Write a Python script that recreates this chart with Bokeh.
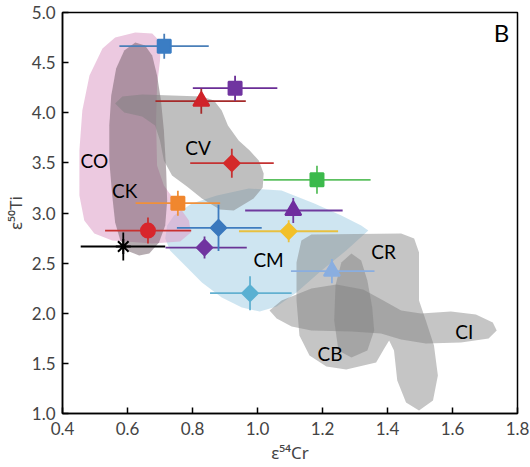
import math
from bokeh.plotting import figure
from bokeh.models import ColumnDataSource, FixedTicker, PrintfTickFormatter
from bokeh.core.properties import value
from bokeh.embed import file_html
from bokeh.resources import INLINE

# ---- measurements (eps54Cr, eps50Ti) with uncertainties ----
eps54Cr = [0.713, 0.931, 0.827, 0.921, 1.183, 0.755, 1.110, 0.880, 0.663, 1.096, 0.587, 0.837, 1.229, 0.977]
eps50Ti = [4.664, 4.245, 4.115, 3.497, 3.331, 3.098, 3.025, 2.852, 2.825, 2.818, 2.666, 2.655, 2.420, 2.200]
cr_lo   = [0.575, 0.801, 0.686, 0.793, 1.018, 0.625, 0.962, 0.752, 0.531, 0.943, 0.456, 0.717, 1.103, 0.854]
cr_hi   = [0.850, 1.061, 0.964, 1.050, 1.348, 0.885, 1.262, 1.013, 0.796, 1.248, 0.716, 0.967, 1.360, 1.105]
ti_err  = [0.125, 0.125, 0.125, 0.145, 0.140, 0.125, 0.125, 0.230, 0.130, 0.110, 0.140, 0.110, 0.120, 0.170]

# ---- group fields (outlines in eps54Cr / eps50Ti) ----
CO_x = [0.624, 0.676, 0.703, 0.700, 0.691, 0.688, 0.691, 0.712, 0.752, 0.789, 0.795, 0.762, 0.676, 0.553, 0.498, 0.467, 0.452, 0.452, 0.461, 0.483, 0.523, 0.562]
CO_y = [4.800, 4.791, 4.701, 4.521, 4.272, 3.923, 3.474, 3.274, 3.095, 2.925, 2.806, 2.716, 2.696, 2.726, 2.796, 2.925, 3.175, 3.623, 4.022, 4.372, 4.641, 4.751]
CK_x = [0.624, 0.654, 0.676, 0.691, 0.703, 0.712, 0.719, 0.722, 0.716, 0.697, 0.667, 0.636, 0.605, 0.578, 0.562, 0.553, 0.544, 0.544, 0.550, 0.565, 0.590]
CK_y = [4.701, 4.671, 4.571, 4.372, 4.122, 3.823, 3.424, 3.125, 2.875, 2.706, 2.596, 2.576, 2.616, 2.726, 2.905, 3.175, 3.524, 3.873, 4.172, 4.441, 4.621]
CV_x = [0.562, 0.584, 0.645, 0.829, 0.866, 0.890, 0.909, 0.942, 0.976, 1.004, 1.019, 1.016, 0.988, 0.927, 0.884, 0.829, 0.783, 0.737, 0.712, 0.700, 0.685, 0.645, 0.590]
CV_y = [4.092, 4.162, 4.182, 4.162, 4.122, 4.022, 3.873, 3.723, 3.623, 3.524, 3.394, 3.254, 3.145, 3.025, 3.035, 3.145, 3.264, 3.374, 3.524, 3.723, 3.873, 3.963, 4.002]
CM_x = [0.743, 0.798, 0.875, 0.973, 1.074, 1.175, 1.258, 1.319, 1.341, 1.273, 1.197, 1.120, 1.059, 1.007, 0.952, 0.890, 0.829, 0.777, 0.731, 0.716, 0.722]
CM_y = [2.975, 3.095, 3.175, 3.244, 3.224, 3.095, 2.975, 2.875, 2.825, 2.626, 2.426, 2.207, 2.067, 2.017, 2.057, 2.157, 2.307, 2.476, 2.626, 2.746, 2.875]
CR_x = [1.135, 1.166, 1.442, 1.482, 1.497, 1.497, 1.518, 1.543, 1.555, 1.540, 1.497, 1.457, 1.430, 1.420, 1.405, 1.390, 1.365, 1.273, 1.212, 1.160, 1.129, 1.120, 1.120]
CR_y = [2.726, 2.785, 2.796, 2.746, 2.606, 2.127, 1.928, 1.678, 1.379, 1.130, 1.030, 1.110, 1.329, 1.628, 1.728, 1.648, 1.509, 1.439, 1.469, 1.579, 1.778, 2.127, 2.506]
CB_x = [1.289, 1.319, 1.338, 1.353, 1.359, 1.338, 1.289, 1.249, 1.236, 1.240, 1.258]
CB_y = [2.596, 2.526, 2.327, 2.057, 1.828, 1.628, 1.559, 1.628, 1.928, 2.277, 2.506]
CI_x = [1.037, 1.074, 1.166, 1.243, 1.325, 1.387, 1.442, 1.503, 1.595, 1.672, 1.724, 1.736, 1.711, 1.626, 1.518, 1.442, 1.380, 1.289, 1.166, 1.105, 1.059]
CI_y = [2.027, 2.127, 2.247, 2.287, 2.237, 2.127, 2.027, 1.997, 2.017, 1.988, 1.908, 1.828, 1.748, 1.708, 1.698, 1.738, 1.798, 1.818, 1.828, 1.868, 1.948]

group_names = ["CO", "CK", "CV", "CM", "CR", "CB", "CI"]
group_lx = [0.498, 0.591, 0.817, 1.034, 1.388, 1.223, 1.636]
group_ly = [3.524, 3.224, 3.653, 2.541, 2.616, 1.603, 1.818]

x_ticks = [0.4, 0.6, 0.8, 1.0, 1.2, 1.4, 1.6, 1.8]
y_ticks = [1.0, 1.5, 2.0, 2.5, 3.0, 3.5, 4.0, 4.5, 5.0]

# ---- styles ----
colors  = ["#3b7dc4", "#7034a0", "#d0232a", "#d42a2a", "#3cba4c", "#f0872e", "#6f2d9e",
           "#3a78bd", "#d8262c", "#f2c029", "#000000", "#7034a0", "#8aaee0", "#5ab0d2"]
bar_col = ["#4a7fb8", "#6a2d96", "#a52a2a", "#c43232", "#5cc060", "#f0903a", "#6f3a9e",
           "#3f7cbf", "#c8302f", "#e8c040", "#000000", "#6a3596", "#8aaee0", "#62b0d0"]
markers = ["square", "square", "triangle", "square", "square", "square", "triangle",
           "square", "circle", "square", "asterisk", "square", "triangle", "square"]
angles  = [0, 0, 0, math.pi / 4, 0, 0, 0, math.pi / 4, 0, math.pi / 4, 0, math.pi / 4, 0, math.pi / 4]
sizes   = [13, 13, 16, 11, 13, 13, 16, 11, 14, 11, 15, 11, 16, 11]

FONT = "Lato"
LABEL_FONT = "Noto Sans"

p = figure(width=530, height=467, x_range=(0.4, 1.8), y_range=(1.0, 5.0),
           toolbar_location=None, output_backend="svg",
           min_border_left=60, min_border_right=13, min_border_top=12, min_border_bottom=54)
p.grid.visible = False
p.outline_line_color = "black"
p.outline_line_width = 1.5
p.background_fill_color = "white"

# fields
p.patch(CM_x, CM_y, fill_color="#c6e0ee", fill_alpha=0.85, line_color=None)
p.patch(CO_x, CO_y, fill_color="#dc9cc6", fill_alpha=0.55, line_color=None)
p.patch(CK_x, CK_y, fill_color="#6e5a64", fill_alpha=0.5, line_color=None)
p.patch(CV_x, CV_y, fill_color="#808080", fill_alpha=0.5, line_color=None)
p.patch(CR_x, CR_y, fill_color="#7f7f7f", fill_alpha=0.45, line_color=None)
p.patch(CI_x, CI_y, fill_color="#7f7f7f", fill_alpha=0.45, line_color=None)
p.patch(CB_x, CB_y, fill_color="#7f7f7f", fill_alpha=0.45, line_color=None)

p.text(x=group_lx, y=group_ly, text=group_names, text_font=value(FONT),
       text_font_size="19px", text_align="center", text_baseline="middle", text_color="black")
p.text(x=[1.751], y=[4.805], text=["B"], text_font=value(FONT), text_font_size="24px",
       text_align="center", text_baseline="middle", text_color="black")

src = ColumnDataSource(dict(
    x=eps54Cr, y=eps50Ti, xlo=cr_lo, xhi=cr_hi,
    ylo=[v - e for v, e in zip(eps50Ti, ti_err)], yhi=[v + e for v, e in zip(eps50Ti, ti_err)],
    color=colors, bar=bar_col, marker=markers, angle=angles, size=sizes))

p.segment(x0="xlo", y0="y", x1="xhi", y1="y", line_color="bar", line_width=1.8, source=src)
p.segment(x0="x", y0="ylo", x1="x", y1="yhi", line_color="bar", line_width=1.8, source=src)
p.scatter(x="x", y="y", marker="marker", size="size", angle="angle", fill_color="color",
          line_color="color", line_width=2, source=src)

for ax in (p.xaxis[0], p.yaxis[0]):
    ax.major_tick_in = 6
    ax.major_tick_out = 0
    ax.minor_tick_in = 0
    ax.minor_tick_out = 0
    ax.axis_line_width = 1.5
    ax.major_tick_line_width = 1.5
    ax.major_label_text_font = FONT
    ax.major_label_text_font_size = "17px"
    ax.axis_label_text_font = LABEL_FONT
    ax.axis_label_text_font_size = "17px"
    ax.axis_label_text_font_style = "normal"
    ax.formatter = PrintfTickFormatter(format="%.1f")

p.xaxis.ticker = FixedTicker(ticks=x_ticks)
p.yaxis.ticker = FixedTicker(ticks=y_ticks)
p.xaxis.axis_label = "ε⁵⁴Cr"
p.yaxis.axis_label = "ε⁵⁰Ti"
p.xaxis.major_label_standoff = 8
p.yaxis.major_label_standoff = 7
p.xaxis.axis_label_standoff = 3
p.yaxis.axis_label_standoff = 2

open("out.html", "w").write(file_html(p, INLINE))
